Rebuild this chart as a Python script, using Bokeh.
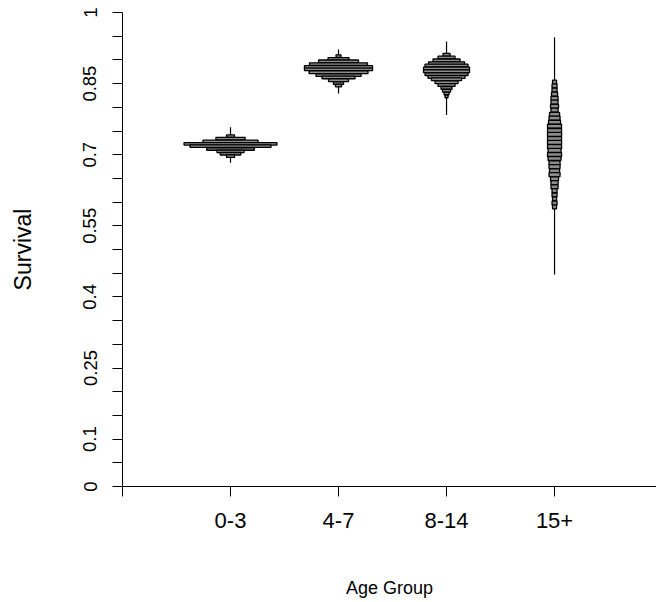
from bokeh.plotting import figure
from bokeh.models import Range1d, FixedTicker, ColumnDataSource
from bokeh.embed import file_html
from bokeh.resources import INLINE

# ---- data ----
groups = ["0-3", "4-7", "8-14", "15+"]
positions = [1, 2, 3, 4]

range_lo = [0.683, 0.829, 0.784, 0.447]
range_hi = [0.758, 0.922, 0.939, 0.948]

bin_height = [0.0053, 0.0056, 0.0058, 0.0085]

centers_03 = [0.739, 0.734, 0.728, 0.723, 0.718, 0.712, 0.707, 0.702, 0.697]
widths_03 = [0.074, 0.27, 0.51, 0.86, 0.75, 0.44, 0.25, 0.19, 0.074]

centers_47 = [0.908, 0.902, 0.897, 0.891, 0.885, 0.880, 0.874, 0.868, 0.863, 0.857, 0.851, 0.846]
widths_47 = [0.046, 0.194, 0.370, 0.537, 0.630, 0.630, 0.546, 0.417, 0.306, 0.185, 0.093, 0.056]

centers_814 = [0.911, 0.905, 0.899, 0.893, 0.888, 0.882, 0.876, 0.870, 0.864, 0.859,
               0.853, 0.847, 0.841, 0.835, 0.829, 0.823]
widths_814 = [0.065, 0.157, 0.250, 0.333, 0.398, 0.426, 0.426, 0.398, 0.343, 0.278,
              0.213, 0.157, 0.102, 0.074, 0.046, 0.028]

centers_15 = [0.853, 0.845, 0.836, 0.828, 0.819, 0.811, 0.802, 0.794, 0.785, 0.777,
              0.768, 0.760, 0.751, 0.743, 0.734, 0.726, 0.717, 0.709, 0.700, 0.692,
              0.683, 0.675, 0.666, 0.658, 0.649, 0.641, 0.632, 0.624, 0.615, 0.607,
              0.598, 0.590]
widths_15 = [0.037, 0.046, 0.046, 0.056, 0.065, 0.065, 0.074, 0.065, 0.093, 0.102,
             0.111, 0.130, 0.130, 0.130, 0.130, 0.130, 0.130, 0.120, 0.130, 0.120,
             0.102, 0.102, 0.093, 0.102, 0.074, 0.065, 0.065, 0.046, 0.046, 0.037,
             0.046, 0.037]

all_centers = [centers_03, centers_47, centers_814, centers_15]
all_widths = [widths_03, widths_47, widths_814, widths_15]

x_tick_values = [0, 1, 2, 3, 4]
x_tick_labels = ["", "0-3", "4-7", "8-14", "15+"]
y_label_values = [0, 0.1, 0.25, 0.4, 0.55, 0.7, 0.85, 1]
y_label_texts = ["0", "0.1", "0.25", "0.4", "0.55", "0.7", "0.85", "1"]
y_minor_values = [0.05, 0.15, 0.2, 0.3, 0.35, 0.45, 0.5, 0.6, 0.65, 0.75, 0.8, 0.9, 0.95]

FONT = "Liberation Sans"

p = figure(width=656, height=600, output_backend="svg", toolbar_location=None,
           x_range=Range1d(0, 4.944), y_range=Range1d(0, 1),
           min_border_left=122, min_border_right=0, min_border_top=12,
           min_border_bottom=112)
p.xgrid.visible = False
p.ygrid.visible = False
p.outline_line_color = None
p.background_fill_color = "white"
p.border_fill_color = "white"

# range lines
p.segment(x0=positions, y0=range_lo, x1=positions, y1=range_hi,
          line_color="black", line_width=1.2)

# bean bars
xs, ys, ws, hs = [], [], [], []
for pos, cs, wd, bh in zip(positions, all_centers, all_widths, bin_height):
    for c, w in zip(cs, wd):
        xs.append(pos)
        ys.append(c)
        ws.append(w)
        hs.append(bh)
src = ColumnDataSource(dict(x=xs, y=ys, w=ws, h=hs))
p.rect(x="x", y="y", width="w", height="h", source=src,
       fill_color="#8c8c8c", line_color="black", line_width=1.3)

# x axis
xa = p.xaxis[0]
xa.ticker = FixedTicker(ticks=x_tick_values)
xa.major_label_overrides = dict(zip(x_tick_values, x_tick_labels))
xa.major_tick_out = 10
xa.major_tick_in = 0
xa.minor_tick_out = 0
xa.axis_line_color = "black"
xa.major_tick_line_color = "black"
xa.major_label_text_font = FONT
xa.major_label_text_font_size = "22px"
xa.major_label_text_color = "black"
xa.major_label_standoff = 16
xa.axis_label = "Age Group"
xa.axis_label_text_font = FONT
xa.axis_label_text_font_size = "18px"
xa.axis_label_text_font_style = "normal"
xa.axis_label_text_color = "black"
xa.axis_label_standoff = 47

# y axis
ya = p.yaxis[0]
ya.ticker = FixedTicker(ticks=y_label_values, minor_ticks=y_minor_values)
ya.major_label_overrides = dict(zip(y_label_values, y_label_texts))
ya.major_label_orientation = "vertical"
ya.major_tick_out = 10
ya.major_tick_in = 0
ya.minor_tick_out = 10
ya.minor_tick_in = 0
ya.axis_line_color = "black"
ya.major_tick_line_color = "black"
ya.minor_tick_line_color = "black"
ya.major_label_text_font = FONT
ya.major_label_text_font_size = "18.5px"
ya.major_label_text_color = "black"
ya.major_label_standoff = 16
ya.axis_label = "Survival"
ya.axis_label_text_font = FONT
ya.axis_label_text_font_size = "23px"
ya.axis_label_text_font_style = "normal"
ya.axis_label_text_color = "black"
ya.axis_label_standoff = 45

open("out.html", "w").write(file_html(p, INLINE))
